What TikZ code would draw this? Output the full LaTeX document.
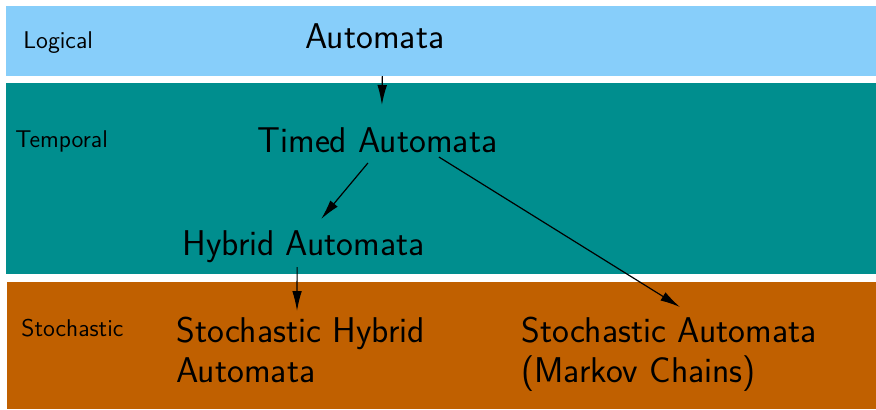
\documentclass[tikz,border=0pt]{standalone}
\usetikzlibrary{arrows.meta}
\definecolor{logicblue}{RGB}{135,206,250}
\definecolor{tempteal}{RGB}{0,142,142}
\definecolor{stochorange}{RGB}{192,96,0}
\begin{document}
\begin{tikzpicture}[x=0.5pt,y=-0.5pt,
  level/.style={font=\sffamily\fontsize{12.1}{14}\selectfont,anchor=base west,inner sep=0pt},
  model/.style={font=\sffamily\fontsize{17.9}{20}\selectfont,anchor=base west,inner sep=0pt,align=left},
  arr/.style={line width=0.6pt,-{Latex[length=10pt,width=4.8pt]}}]
\useasboundingbox (0,0) rectangle (876,409);
% 三个层次的色带
\fill[logicblue] (6,6) rectangle (876,76);
\fill[tempteal] (6,83) rectangle (876,274);
\fill[stochorange] (7,282) rectangle (876,409);
% 层次名称
\node[level] (logical) at (23,48) {Logical};
\node[level] (temporal) at (15,147) {Temporal};
\node[level] (stochastic) at (21,336) {Stochastic};
% 各类自动机（多行结点以末行基线定位）
\node[model] (auto) at (305,48) {Automata};
\node[model] (timed) at (257,152) {Timed Automata};
\node[model] (hybrid) at (182,255) {Hybrid Automata};
\node[model] (shybrid) at (176,382) {Stochastic Hybrid\\Automata};
\node[model] (sauto) at (521,382) {Stochastic Automata\\(Markov Chains)};
% 箭头
\draw[arr] ([shift={(7.5,28)}]auto.base) -- ([shift={(4.5,-47)}]timed.base);
\draw[arr] ([shift={(-9.5,11)}]timed.base) -- ([shift={(17.5,-36)}]hybrid.base);
\draw[arr] ([shift={(61.5,5)}]timed.base) -- ([shift={(159,-75)}]sauto.base west);
\draw[arr] ([shift={(-6.5,12)}]hybrid.base) -- ([shift={(121,-71)}]shybrid.base west);
\end{tikzpicture}
\end{document}
